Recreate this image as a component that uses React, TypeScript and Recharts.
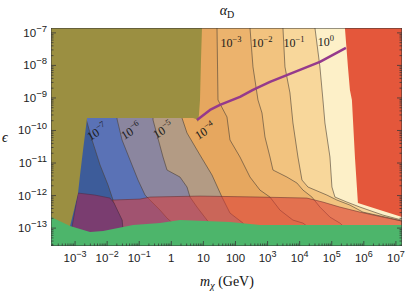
import React from 'react';
import { ScatterChart, Scatter, XAxis, YAxis } from 'recharts';

type P = [number, number];

const X_DOMAIN: [number, number] = [-3.75, 7.19];
const Y_DOMAIN: [number, number] = [-13.55, -6.85];
const xMajor = [-3, -2, -1, 0, 1, 2, 3, 4, 5, 6, 7];
const yMajor = [-13, -12, -11, -10, -9, -8, -7];
const minorFactors = [2, 3, 4, 5, 6, 7, 8, 9];

// alpha_D contour lines (log10 m, log10 eps), top to bottom
const c7: P[] = [[-2.657,-6.85],[-2.657,-9.646],[-2.470,-10.292],[-2.221,-11.062],[-1.972,-11.677],[-1.816,-12.138],[-1.598,-12.754],[-1.474,-13.55]];
const c6: P[] = [[-1.692,-6.85],[-1.692,-9.646],[-1.536,-10.292],[-1.287,-10.908],[-1.037,-11.523],[-0.819,-11.985],[-0.664,-12.138],[-0.352,-12.446],[-0.134,-12.692],[0.115,-12.908],[0.271,-13.55]];
const c5: P[] = [[-0.570,-6.85],[-0.570,-9.677],[-0.259,-10.815],[-0.134,-11.215],[0.271,-11.431],[0.489,-11.738],[0.583,-12.046],[0.801,-12.354],[1.112,-12.754],[1.361,-13.062],[1.517,-13.55]];
const c4: P[] = [[0.333,-6.85],[0.333,-9.615],[0.489,-10.077],[0.894,-10.754],[1.268,-11.369],[1.579,-12.046],[1.829,-12.538],[2.234,-12.846],[2.452,-13.123],[2.607,-13.55]];
const c3: P[] = [[1.424,-6.85],[1.455,-9.062],[1.735,-9.585],[1.829,-10.292],[2.140,-10.815],[2.452,-11.431],[2.763,-11.831],[3.075,-12.046],[3.386,-12.446],[3.791,-12.754],[4.103,-12.846],[4.477,-13.123],[4.632,-13.55]];
const c2: P[] = [[2.452,-6.85],[2.545,-8.046],[2.701,-9.062],[2.826,-9.462],[2.919,-10.200],[3.075,-10.815],[3.168,-11.215],[3.604,-11.431],[3.916,-11.615],[4.103,-11.831],[4.383,-12.046],[4.632,-12.354],[4.944,-12.662],[5.255,-12.846],[5.567,-13.123],[5.723,-13.55]];
const c1: P[] = [[3.480,-6.85],[3.542,-8.046],[3.698,-8.846],[3.791,-9.769],[3.947,-10.815],[4.072,-11.523],[4.259,-11.738],[4.850,-11.985],[5.162,-12.138],[5.567,-12.292],[5.972,-12.508],[6.813,-12.692],[7.19,-12.785]];
const c0: P[] = [[4.477,-6.85],[4.632,-8.046],[4.726,-9.062],[4.788,-9.769],[4.944,-10.815],[5.006,-11.738],[5.100,-12.046],[5.474,-12.200],[5.879,-12.354],[6.595,-12.600],[7.19,-12.754]];

const contours: P[][] = [c7, c6, c5, c4, c3, c2, c1, c0];

const olive: P[] = [[-3.75,-6.85],[0.956,-6.85],[0.925,-7.831],[0.894,-9.062],[0.863,-9.5],[0.832,-9.738],[0.770,-9.646],[0.676,-9.615],[-2.626,-9.615],[-2.751,-10.6],[-2.845,-11.369],[-2.907,-11.923],[-3.032,-12.446],[-3.156,-12.938],[-3.2,-13.55],[-3.75,-13.55]];
const purpleRegion: P[] = [[-2.907,-11.923],[-2.377,-11.985],[-1.910,-12.077],[-1.785,-12.231],[-1.536,-12.754],[-1.442,-13.55],[-3.2,-13.55]];
const redBand: P[] = [[-1.847,-12.138],[-0.975,-12.108],[-0.664,-12.046],[0.894,-12.015],[2.763,-12.046],[4.227,-12.077],[4.726,-12.200],[5.255,-12.354],[5.879,-12.508],[6.595,-12.662],[7.19,-12.785],[7.19,-13.55],[-1.474,-13.55],[-1.536,-12.754]];
const redRegion: P[] = [[5.411,-6.85],[5.505,-8.046],[5.567,-8.754],[5.629,-9.062],[5.723,-10.815],[5.816,-12.231],[6.502,-12.446],[7.19,-12.662],[7.19,-6.85]];
const greenRegion: P[] = [[-3.75,-12.662],[-3.156,-12.938],[-2.533,-13.123],[-2.128,-13.092],[-1.193,-12.908],[-0.352,-12.846],[0.271,-12.754],[1.829,-12.815],[2.763,-12.908],[7.19,-12.908],[7.19,-13.55],[-3.75,-13.55]];
const bbnLine: P[] = [[0.801,-9.677],[1.206,-9.369],[1.517,-9.215],[2.140,-8.969],[2.545,-8.754],[3.075,-8.508],[4.632,-7.892],[5.442,-7.462]];

const rotatedLabels = [
  { x: -2.315, y: -10.046, e: '\u22127' },
  { x: -1.255, y: -10.015, e: '\u22126' },
  { x: -0.259, y: -9.985, e: '\u22125' },
  { x: 1.050, y: -10.015, e: '\u22124' },
];
const flatLabels = [
  { x: 1.860, y: -7.308, e: '\u22123' },
  { x: 2.826, y: -7.308, e: '\u22122' },
  { x: 3.822, y: -7.308, e: '\u22121' },
  { x: 4.819, y: -7.277, e: '0' },
];

const bandColors = ['#5a72b6', '#8b869f', '#b39b84', '#e6a75f', '#ecb36d', '#f2c37f', '#f8d79b', '#fdf0c8'];
const baseColor = '#3d5c9a';

const SANS = 'Liberation Sans, Arial, sans-serif';
const SERIF = 'Liberation Serif, Times New Roman, serif';

const toPts = (a: P[]) => a.map(([x, y]) => ({ x, y }));
const bandPoly = (c: P[]): P[] => [...c, [X_DOMAIN[1], c[c.length - 1][1]], [X_DOMAIN[1], Y_DOMAIN[1]]];
const rect: P[] = [[X_DOMAIN[0], Y_DOMAIN[1]], [X_DOMAIN[1], Y_DOMAIN[1]], [X_DOMAIN[1], Y_DOMAIN[0]], [X_DOMAIN[0], Y_DOMAIN[0]]];

const mkTicks = (majors: number[], lo: number, hi: number) => {
  const t: number[] = [];
  for (let n = majors[0] - 1; n <= majors[majors.length - 1]; n++) {
    t.push(n);
    minorFactors.forEach((k) => t.push(n + Math.log10(k)));
  }
  return t.filter((v) => v >= lo && v <= hi).sort((a, b) => a - b);
};
const xTicks = mkTicks(xMajor, X_DOMAIN[0], X_DOMAIN[1]);
const yTicks = mkTicks(yMajor, Y_DOMAIN[0], Y_DOMAIN[1]);

const isMajor = (v: number) => Math.abs(v - Math.round(v)) < 1e-6;
const TICK = '#3a3a3a';

const Empty = () => <g />;

const polyFn = (fill: string, opts: { stroke?: string; sw?: number; closed?: boolean; op?: number } = {}) => (p: any) => {
  const pts: { x: number; y: number }[] = p.points || [];
  const d = pts.map((q, i) => `${i ? 'L' : 'M'}${q.x},${q.y}`).join('') + (opts.closed === false ? '' : 'Z');
  return (
    <path
      d={d}
      fill={fill}
      fillOpacity={opts.op ?? 1}
      stroke={opts.stroke ?? 'none'}
      strokeWidth={opts.sw ?? 0}
      strokeLinejoin="round"
    />
  );
};

const sup = (v: number) => (v < 0 ? '\u2212' + Math.abs(v) : String(v));

const XTickBottom = (props: any) => {
  const { x, y, payload } = props;
  const v = payload.value;
  const major = isMajor(v);
  const r = Math.round(v);
  return (
    <g>
      <line x1={x} y1={y} x2={x} y2={y - (major ? 5 : 2.5)} stroke={TICK} strokeWidth={0.8} />
      {major && (
        <text x={x} y={y + 16} textAnchor="middle" fontFamily={SANS} fontSize={11.5} fill="#222">
          {r === 0 ? '1' : r === 1 ? '10' : r === 2 ? '100' : <>10<tspan dy={-5} fontSize={9}>{sup(r)}</tspan></>}
        </text>
      )}
    </g>
  );
};
const XTickTop = (props: any) => {
  const { x, y, payload } = props;
  const major = isMajor(payload.value);
  return <line x1={x} y1={y} x2={x} y2={y + (major ? 5 : 2.5)} stroke={TICK} strokeWidth={0.8} />;
};
const YTickLeft = (props: any) => {
  const { x, y, payload } = props;
  const v = payload.value;
  const major = isMajor(v);
  return (
    <g>
      <line x1={x} y1={y} x2={x + (major ? 5 : 2.5)} y2={y} stroke={TICK} strokeWidth={0.8} />
      {major && (
        <text x={x - 4} y={y + 4} textAnchor="end" fontFamily={SANS} fontSize={11.5} fill="#222">
          10<tspan dy={-5} fontSize={9.5}>{sup(Math.round(v))}</tspan>
        </text>
      )}
    </g>
  );
};
const YTickRight = (props: any) => {
  const { x, y, payload } = props;
  const major = isMajor(payload.value);
  return <line x1={x} y1={y} x2={x - (major ? 5 : 2.5)} y2={y} stroke={TICK} strokeWidth={0.8} />;
};

const LabelShape = (rot: number) => (props: any) => {
  const { cx, cy, payload } = props;
  return (
    <text
      x={cx}
      y={cy + 4}
      transform={`rotate(${rot} ${cx} ${cy})`}
      textAnchor="middle"
      fontFamily={SERIF}
      fontSize={12}
      fill="#1a1a1a"
    >
      10<tspan dy={-5} fontSize={8.5}>{payload.e}</tspan>
    </text>
  );
};

export default function App() {
  const S = (key: string, data: P[], line: any) => (
    <Scatter key={key} data={toPts(data)} shape={Empty} line={line} isAnimationActive={false} />
  );
  return (
    <div style={{ position: 'absolute', left: 0, top: 0, width: 407, height: 294 }}>
      <ScatterChart width={407} height={294} margin={{ top: 27, right: 4, bottom: 47, left: 50 }}>
        {S('base', rect, polyFn(baseColor))}
        {contours.map((c, i) => S('band' + i, bandPoly(c), polyFn(bandColors[i])))}
        {contours.map((c, i) => S('cl' + i, c, polyFn('none', { stroke: '#4a3f35', sw: 0.6, closed: false })))}
        {S('redband', redBand, polyFn('#dc3a36', { op: 0.55, stroke: '#5a2a2a', sw: 0.5 }))}
        {S('purple', purpleRegion, polyFn('#7a3d70', { stroke: '#4a2a40', sw: 0.5 }))}
        {S('olive', olive, polyFn('#9b8f41'))}
        {S('red', redRegion, polyFn('#e4573b'))}
        {S('green', greenRegion, polyFn('#4db56b'))}
        {S('bbn', bbnLine, polyFn('none', { stroke: '#953a8c', sw: 2.5, closed: false }))}
        <Scatter data={rotatedLabels} shape={LabelShape(-32)} isAnimationActive={false} />
        <Scatter data={flatLabels} shape={LabelShape(0)} isAnimationActive={false} />
        {S('frame', rect, polyFn('none', { stroke: '#333', sw: 1 }))}
        <XAxis
          type="number"
          dataKey="x"
          domain={X_DOMAIN}
          allowDataOverflow
          ticks={xTicks}
          interval={0}
          height={1}
          tickSize={0}
          tickMargin={0}
          axisLine={false}
          tickLine={false}
          tick={<XTickBottom />}
        />
        <XAxis
          xAxisId="top"
          orientation="top"
          type="number"
          domain={X_DOMAIN}
          allowDataOverflow
          ticks={xTicks}
          interval={0}
          height={1}
          tickSize={0}
          tickMargin={0}
          axisLine={false}
          tickLine={false}
          tick={<XTickTop />}
        />
        <YAxis
          type="number"
          dataKey="y"
          domain={Y_DOMAIN}
          allowDataOverflow
          ticks={yTicks}
          interval={0}
          width={1}
          tickSize={0}
          tickMargin={0}
          axisLine={false}
          tickLine={false}
          tick={<YTickLeft />}
        />
        <YAxis
          yAxisId="right"
          orientation="right"
          type="number"
          domain={Y_DOMAIN}
          allowDataOverflow
          ticks={yTicks}
          interval={0}
          width={1}
          tickSize={0}
          tickMargin={0}
          axisLine={false}
          tickLine={false}
          tick={<YTickRight />}
        />
      </ScatterChart>
      <svg width={407} height={294} style={{ position: 'absolute', left: 0, top: 0, pointerEvents: 'none' }}>
        <text x={227} y={15} textAnchor="middle" fontFamily={SERIF} fontSize={14} fill="#111">
          <tspan fontStyle="italic">α</tspan>
          <tspan dy={3} fontSize={10}>D</tspan>
        </text>
        <text x={227} y={286} textAnchor="middle" fontFamily={SERIF} fontSize={14} fill="#111">
          <tspan fontStyle="italic">m</tspan>
          <tspan dy={3} fontSize={10} fontStyle="italic">χ</tspan>
          <tspan dy={-3}> (GeV)</tspan>
        </text>
        <text x={2} y={142} fontFamily={SERIF} fontSize={14} fontStyle="italic" fill="#111">
          ϵ
        </text>
      </svg>
    </div>
  );
}
